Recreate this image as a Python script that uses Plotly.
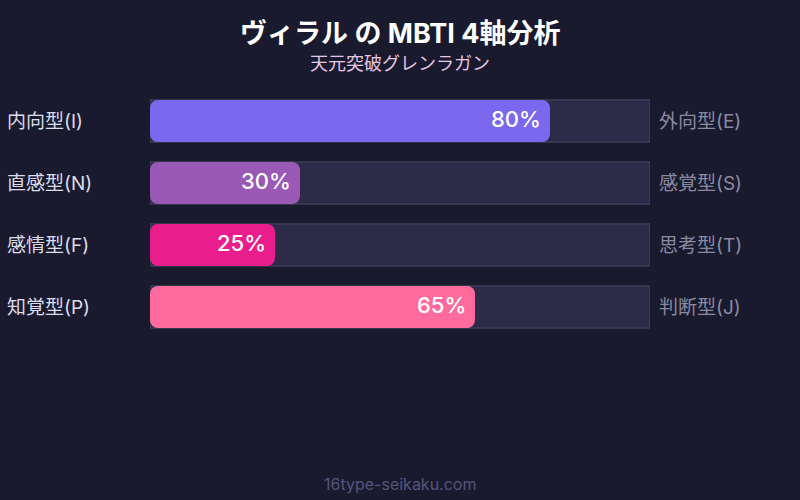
import plotly.graph_objects as go

left_labels = ["内向型(I)", "直感型(N)", "感情型(F)", "知覚型(P)"]
right_labels = ["外向型(E)", "感覚型(S)", "思考型(T)", "判断型(J)"]
values = [80, 30, 25, 65]
colors = ["#7B68EE", "#9B59B6", "#E91E8C", "#FF6B9D"]
track_max = [100, 100, 100, 100]

title = "ヴィラル の MBTI 4軸分析"
subtitle = "天元突破グレンラガン"
footer = "16type-seikaku.com"

FONT = "Inter, 'Noto Sans CJK JP', sans-serif"
BG = "#1A1A2E"
W, H = 800, 500
ML, MR, MT, MB = 150, 150, 90, 162
ph = H - MT - MB

def py(pix):
    return (H - MB - pix) / ph

def px(pix):
    return (pix - ML) / (W - ML - MR)

ypos = list(range(len(left_labels)))

fig = go.Figure()
# background track
fig.add_trace(go.Bar(
    y=ypos, x=track_max, orientation="h", width=0.68,
    marker=dict(color="#2D2B48", line=dict(color="#4A4964", width=1), cornerradius=0),
    hoverinfo="skip", showlegend=False,
))
# value bar (explicit base -> all corners rounded)
fig.add_trace(go.Bar(
    y=ypos, x=values, base=0, orientation="h", width=0.68, xaxis="x2",
    marker=dict(color=colors, line=dict(width=0), cornerradius=8),
    hovertemplate="%{x}%<extra></extra>",
    showlegend=False,
))

for i, (l, r, v) in enumerate(zip(left_labels, right_labels, values)):
    fig.add_annotation(x=px(5), y=i, xref="paper", yref="y", text=l,
                       showarrow=False, xanchor="left",
                       font=dict(size=19, color="#DCDCEC", family=FONT))
    fig.add_annotation(x=px(657), y=i, xref="paper", yref="y", text=r,
                       showarrow=False, xanchor="left",
                       font=dict(size=19, color="#8A8AA2", family=FONT))
    fig.add_annotation(x=v, y=i, xref="x", yref="y", text=f"{v}%",
                       showarrow=False, xanchor="right", xshift=-7, yshift=2,
                       font=dict(size=22, color="white", family=FONT, weight=500))

fig.add_annotation(x=0.5, y=py(33), xref="paper", yref="paper", yanchor="middle",
                   xanchor="center", showarrow=False, text=f"<b>{title}</b>",
                   font=dict(size=27, color="white", family=FONT))
fig.add_annotation(x=0.5, y=py(63), xref="paper", yref="paper", yanchor="middle",
                   xanchor="center", showarrow=False, text=subtitle,
                   font=dict(size=18, color="#E6C8E6", family=FONT))
fig.add_annotation(x=0.5, y=py(484), xref="paper", yref="paper", yanchor="middle",
                   xanchor="center", showarrow=False, text=footer,
                   font=dict(size=16, color="#55557A", family=FONT))

fig.update_layout(
    width=W, height=H,
    paper_bgcolor=BG, plot_bgcolor=BG,
    barmode="overlay",
    margin=dict(l=ML, r=MR, t=MT, b=MB),
    xaxis=dict(range=[0, 100], visible=False, fixedrange=True),
    xaxis2=dict(range=[0, 100], visible=False, fixedrange=True, overlaying="x"),
    yaxis=dict(range=[3.5, -0.5], visible=False, fixedrange=True),
    font=dict(family=FONT),
)

fig.write_html("out.html", config={"displayModeBar": False},
               post_script="document.body.style.margin='0';document.body.style.background='#1A1A2E';")
